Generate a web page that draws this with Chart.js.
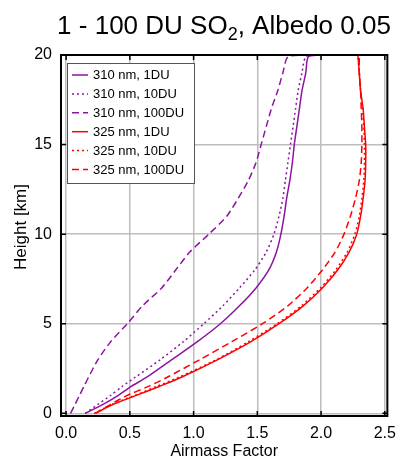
<!DOCTYPE html>
<html>
<head>
<meta charset="utf-8">
<script src="https://cdn.jsdelivr.net/npm/chart.js@4.4.0/dist/chart.umd.min.js"></script>
<style>
  body { margin: 0; background: #fff; }
</style>
</head>
<body>
<canvas id="amfChart" width="404" height="460"></canvas>
<script>
// Height grid [km] shared by all profiles
const heights = [0, 0.5, 1, 1.5, 2, 3, 4, 5, 6, 7, 8, 9, 10, 11, 12, 13, 14, 15, 16, 17, 18, 19, 19.9, 20];

// Airmass factor profiles
const amf310_1DU   = [0.15, 0.29, 0.41, 0.51, 0.63, 0.83, 1.03, 1.21, 1.36, 1.49, 1.59, 1.65, 1.685, 1.71, 1.73, 1.755, 1.775, 1.79, 1.81, 1.83, 1.85, 1.88, 1.90, 1.99];
const amf310_10DU  = [0.15, 0.25, 0.35, 0.44, 0.54, 0.74, 0.92, 1.08, 1.23, 1.36, 1.48, 1.57, 1.63, 1.67, 1.70, 1.72, 1.74, 1.76, 1.78, 1.80, 1.82, 1.85, 1.88, 1.97];
const amf310_100DU = [0.035, 0.07, 0.105, 0.14, 0.175, 0.25, 0.35, 0.48, 0.60, 0.75, 0.86, 0.97, 1.12, 1.26, 1.35, 1.43, 1.49, 1.53, 1.57, 1.61, 1.66, 1.70, 1.74, 1.87];
const amf325_1DU   = [0.23, 0.37, 0.55, 0.73, 0.90, 1.19, 1.45, 1.67, 1.86, 2.01, 2.13, 2.22, 2.28, 2.31, 2.33, 2.345, 2.35, 2.35, 2.34, 2.33, 2.31, 2.30, 2.29, 2.29];
const amf325_10DU  = [0.22, 0.36, 0.54, 0.71, 0.88, 1.18, 1.43, 1.655, 1.845, 1.995, 2.115, 2.205, 2.265, 2.30, 2.32, 2.335, 2.34, 2.34, 2.335, 2.325, 2.31, 2.30, 2.29, 2.29];
const amf325_100DU = [0.23, 0.35, 0.48, 0.645, 0.79, 1.05, 1.30, 1.54, 1.74, 1.89, 2.01, 2.11, 2.18, 2.23, 2.27, 2.30, 2.315, 2.32, 2.32, 2.315, 2.31, 2.30, 2.30, 2.30];

const seriesLabels = ['310 nm, 1DU', '310 nm, 10DU', '310 nm, 100DU', '325 nm, 1DU', '325 nm, 10DU', '325 nm, 100DU'];
const xTicks = [0, 0.5, 1, 1.5, 2, 2.5];
const yTicks = [0, 5, 10, 15, 20];

const FONT = "'Liberation Sans', Arial, sans-serif";
const PURPLE = 'rgb(140,20,160)';
const RED = '#ff0000';
const SOLID = [], DOTTED = [2, 3], DASHED = [7, 4];

function profile(values) {
    return values.map((v, i) => ({ x: v, y: heights[i] }));
}

const styles = [
    { color: PURPLE, dash: SOLID },
    { color: PURPLE, dash: DOTTED },
    { color: PURPLE, dash: DASHED },
    { color: RED, dash: SOLID },
    { color: RED, dash: DOTTED },
    { color: RED, dash: DASHED }
];
const series = [amf310_1DU, amf310_10DU, amf310_100DU, amf325_1DU, amf325_10DU, amf325_100DU];

const datasets = series.map((vals, i) => ({
    label: seriesLabels[i],
    data: profile(vals),
    borderColor: styles[i].color,
    borderDash: styles[i].dash,
    borderWidth: 1.5,
    showLine: true,
    pointRadius: 0,
    tension: 0.25,
    fill: false
}));

// frame with inward ticks on all four sides
const framePlugin = {
    id: 'frame',
    afterDatasetsDraw(chart) {
        const { ctx, chartArea: a, scales: { x, y } } = chart;
        ctx.save();
        ctx.strokeStyle = '#000';
        ctx.lineWidth = 1.5;
        ctx.setLineDash([]);
        ctx.beginPath();
        xTicks.forEach(v => {
            const px = x.getPixelForValue(v);
            ctx.moveTo(px, a.bottom); ctx.lineTo(px, a.bottom - 5);
            ctx.moveTo(px, a.top); ctx.lineTo(px, a.top + 5);
        });
        yTicks.forEach(v => {
            const py = y.getPixelForValue(v);
            ctx.moveTo(a.left, py); ctx.lineTo(a.left + 5, py);
            ctx.moveTo(a.right, py); ctx.lineTo(a.right - 5, py);
        });
        ctx.stroke();
        ctx.lineWidth = 2;
        ctx.strokeRect(a.left, a.top, a.right - a.left, a.bottom - a.top);
        ctx.restore();
    }
};

// boxed legend in the upper left of the plot
const legendPlugin = {
    id: 'boxLegend',
    afterDraw(chart) {
        const { ctx, chartArea: a } = chart;
        const bx = a.left + 6, by = a.top + 8, bw = 127, bh = 120;
        ctx.save();
        ctx.fillStyle = '#fff';
        ctx.fillRect(bx, by, bw, bh);
        ctx.strokeStyle = '#555';
        ctx.lineWidth = 1;
        ctx.strokeRect(bx + 0.5, by + 0.5, bw, bh);
        ctx.font = '13px ' + FONT;
        ctx.textBaseline = 'middle';
        ctx.fillStyle = '#000';
        chart.data.datasets.forEach((ds, i) => {
            const ry = by + 12 + i * 18.9;
            ctx.strokeStyle = ds.borderColor;
            ctx.lineWidth = 1.5;
            ctx.setLineDash(ds.borderDash);
            ctx.beginPath();
            ctx.moveTo(bx + 5, ry);
            ctx.lineTo(bx + 21, ry);
            ctx.stroke();
            ctx.setLineDash([]);
            ctx.fillText(ds.label, bx + 26, ry + 0.5);
        });
        ctx.restore();
    }
};

// title with subscript, plus rotated y-axis title
const textPlugin = {
    id: 'texts',
    afterDraw(chart) {
        const ctx = chart.ctx;
        const big = '26px ' + FONT, small = '18px ' + FONT;
        const parts = [['1 - 100 DU SO', big, 0], ['2', small, 6], [', Albedo 0.05', big, 0]];
        ctx.save();
        let total = 0;
        parts.forEach(p => { ctx.font = p[1]; total += ctx.measureText(p[0]).width; });
        let x = 224 - total / 2;
        ctx.fillStyle = '#000';
        ctx.textBaseline = 'alphabetic';
        parts.forEach(p => {
            ctx.font = p[1];
            ctx.fillText(p[0], x, 34 + p[2]);
            x += ctx.measureText(p[0]).width;
        });

        ctx.translate(21, 227);
        ctx.rotate(-Math.PI / 2);
        ctx.font = '17px ' + FONT;
        ctx.textAlign = 'center';
        ctx.textBaseline = 'middle';
        ctx.fillText('Height [km]', 0, 0);
        ctx.restore();
    }
};

const ctx = document.getElementById('amfChart').getContext('2d');
const amfChart = new Chart(ctx, {
    type: 'scatter',
    data: { datasets: datasets },
    options: {
        responsive: false,
        animation: false,
        devicePixelRatio: 1,
        layout: { padding: { top: 55, right: 9, left: 0, bottom: 0 } },
        plugins: {
            legend: { display: false },
            tooltip: { enabled: false }
        },
        scales: {
            x: {
                type: 'linear',
                min: -0.04,
                max: 2.52,
                afterBuildTicks: scale => { scale.ticks = xTicks.map(v => ({ value: v })); },
                afterFit: scale => { scale.height = 44; },
                grid: { color: '#bdbdbd', lineWidth: 1.5, drawTicks: false },
                border: { display: false },
                ticks: {
                    padding: 8,
                    color: '#000',
                    font: { family: FONT, size: 16 },
                    callback: v => v.toFixed(1)
                },
                title: {
                    display: true,
                    text: 'Airmass Factor',
                    color: '#000',
                    font: { family: FONT, size: 16 },
                    padding: { top: 0, bottom: -1 }
                }
            },
            y: {
                type: 'linear',
                min: -0.15,
                max: 20,
                afterBuildTicks: scale => { scale.ticks = yTicks.map(v => ({ value: v })); },
                afterFit: scale => { scale.width = 61; },
                grid: { color: '#bdbdbd', lineWidth: 1.5, drawTicks: false },
                border: { display: false },
                ticks: {
                    padding: 9,
                    color: '#000',
                    font: { family: FONT, size: 16 },
                    callback: v => String(v)
                }
            }
        }
    },
    plugins: [framePlugin, legendPlugin, textPlugin]
});
</script>
</body>
</html>
